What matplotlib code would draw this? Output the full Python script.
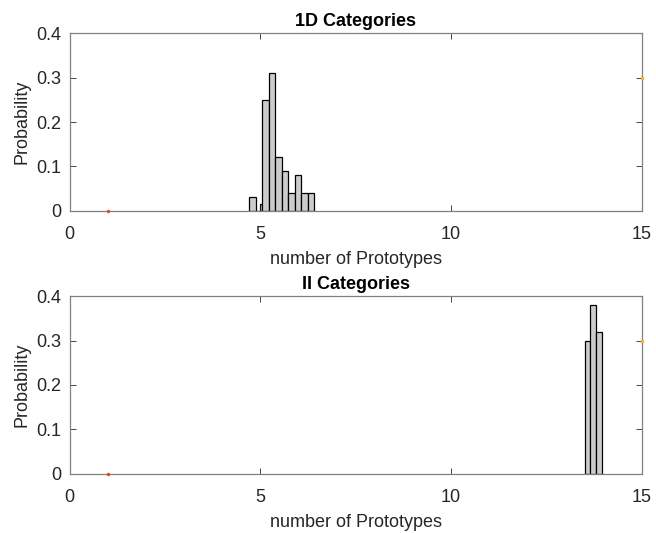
import matplotlib
matplotlib.use("Agg")
import matplotlib.pyplot as plt
import numpy as np

plt.rcParams['font.family'] = ['Liberation Sans', 'DejaVu Sans']

# 1D categories histogram (bin edges and probabilities)
edges_1d = [4.70, 4.88, 4.98, 5.05, 5.22, 5.39, 5.56, 5.73, 5.90, 6.07, 6.24, 6.41]
probs_1d = [0.03, 0.0, 0.014, 0.25, 0.31, 0.12, 0.09, 0.04, 0.08, 0.04, 0.04]

# II categories histogram
edges_ii = [13.50, 13.65, 13.81, 13.97]
probs_ii = [0.30, 0.38, 0.32]

# extra points drawn on each panel
pt1 = (1, 0)
pt2 = (15, 0.3)

panels = [("1D Categories", edges_1d, probs_1d),
          ("II Categories", edges_ii, probs_ii)]

fig = plt.figure(figsize=(6.56, 5.33), dpi=100)
axes_pos = [[0.1063, 0.6047, 0.872, 0.3328],
            [0.1063, 0.1113, 0.872, 0.3328]]

gray = '#262626'
for pos, (title, edges, probs) in zip(axes_pos, panels):
    ax = fig.add_axes(pos)
    e = np.array(edges)
    ax.bar(e[:-1], probs, width=np.diff(e), align='edge',
           facecolor='#cccccc', edgecolor='black', linewidth=0.9)
    ax.plot(*pt1, '.', color='#D95319', markersize=3, clip_on=False, zorder=5)
    ax.plot(*pt2, '.', color='#EDB120', markersize=3, clip_on=False, zorder=5)
    ax.set_xlim(0, 15)
    ax.set_ylim(0, 0.4)
    ax.set_xticks([0, 5, 10, 15])
    ax.set_yticks([0, 0.1, 0.2, 0.3, 0.4])
    ax.set_yticklabels(['0', '0.1', '0.2', '0.3', '0.4'])
    ax.tick_params(direction='in', length=4.3, width=0.6, color=gray,
                   labelsize=13, labelcolor=gray, top=True, right=True)
    ax.tick_params(axis='x', pad=11)
    ax.tick_params(axis='y', pad=6)
    for s in ax.spines.values():
        s.set_color('#808080')
        s.set_linewidth(0.9)
    ax.set_xlabel('number of Prototypes', fontsize=13, color=gray, labelpad=6)
    ax.set_ylabel('Probability', fontsize=13, color=gray, labelpad=4)
    ax.set_title(title, fontsize=13, fontweight='bold', color='black', pad=5)

fig.savefig('out.png', dpi=100)
